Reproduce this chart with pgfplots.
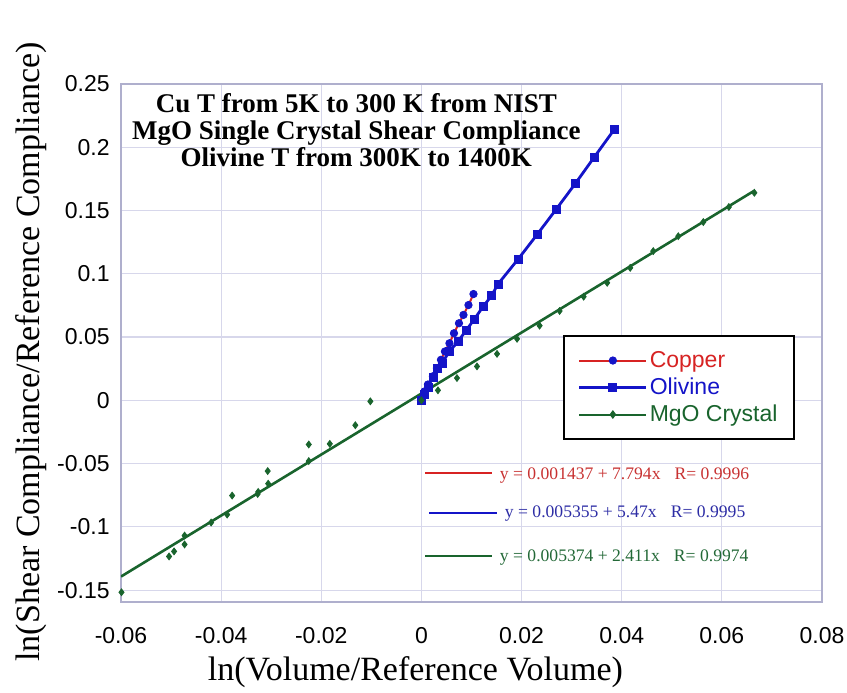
\documentclass[border=0pt]{standalone}
\usepackage{fontspec}
\setmainfont{Liberation Serif}
\newfontfamily\arial{Liberation Sans}
\usepackage{pgfplots}
\pgfplotsset{compat=1.18}
\definecolor{cured}{RGB}{215,35,35}
\definecolor{cublue}{RGB}{20,20,200}
\definecolor{mgogreen}{RGB}{25,100,45}
\definecolor{gridcol}{RGB}{215,215,235}
\definecolor{framecol}{RGB}{175,175,205}
\definecolor{eqred}{RGB}{200,50,50}
\definecolor{eqblue}{RGB}{45,45,165}
\definecolor{eqgreen}{RGB}{35,105,55}
\begin{document}
\begin{tikzpicture}
\path[use as bounding box] (-60.5pt,-45pt) rectangle (363pt,301pt);
\begin{axis}[
  scale only axis, width=350.5pt, height=259pt,
  xmin=-0.06, xmax=0.08, ymin=-0.1594, ymax=0.25,
  xtick={-0.06,-0.04,-0.02,0,0.02,0.04,0.06,0.08},
  ytick={-0.15,-0.1,-0.05,0,0.05,0.1,0.15,0.2,0.25},
  grid=major, major grid style={draw=gridcol, line width=0.6pt},
  axis line style={draw=framecol, line width=0.8pt},
  major tick length=0pt, tick style={draw=none},
  scaled ticks=false,
  /pgf/number format/fixed, /pgf/number format/precision=2,
  /pgf/number format/assume math mode=true,
  ticklabel style={font=\arial\fontsize{11.5}{13}\selectfont},
  xticklabel style={anchor=base, yshift=-20.5pt},
  yticklabel style={anchor=east, inner sep=0pt, xshift=-5.5pt},
  xlabel={ln(Volume/Reference Volume)},
  ylabel={ln(Shear Compliance/Reference Compliance)},
  label style={font=\fontsize{17}{20}\selectfont},
  xlabel style={at={(axis description cs:0.42,-0.1525)}, anchor=base},
  ylabel style={at={(axis description cs:-0.1156,0.483)}, anchor=base, rotate=0},
  legend style={at={(rel axis cs:0.6305,0.5154)}, anchor=north west,
    draw=black, line width=1pt, fill=white,
    font=\arial\fontsize{11.5}{13}\selectfont,
    inner xsep=7pt, inner ysep=5.5pt, row sep=0pt,
    nodes={inner sep=1pt, text height=9pt, text depth=2.5pt}},
  legend cell align=left,
  legend image code/.code={\draw[mark repeat=2,mark phase=2,#1] plot coordinates {(0pt,0pt) (16.75pt,0pt) (33.5pt,0pt)};},
]
% MgO fit line
\addplot[mgogreen, line width=1.3pt, forget plot] coordinates {(-0.06,-0.1393) (0.0665,0.1657)};
% Copper
\addplot[cured, line width=1pt, mark=*, mark size=1.85pt,
  mark options={draw=cublue, fill=cublue, line width=0.4pt}] table {
x y
0.0000 0.0010
0.0006 0.0070
0.0013 0.0125
0.0023 0.0190
0.0031 0.0255
0.0039 0.0320
0.0047 0.0386
0.0056 0.0451
0.0065 0.0530
0.0075 0.0609
0.0084 0.0675
0.0094 0.0753
0.0104 0.0840
};
\addlegendentry{\textcolor{cured}{Copper}}
% Olivine
\addplot[cublue, line width=1.4pt, mark=square*, mark size=2pt,
  mark options={draw=cublue, fill=cublue, line width=0.4pt}] table {
x y
0.0000 0.0000
0.0006 0.0050
0.0013 0.0102
0.0023 0.0184
0.0032 0.0250
0.0041 0.0294
0.0056 0.0386
0.0073 0.0465
0.0089 0.0551
0.0106 0.0643
0.0123 0.0740
0.0140 0.0826
0.0153 0.0919
0.0193 0.1115
0.0231 0.1310
0.0269 0.1509
0.0307 0.1711
0.0345 0.1921
0.0386 0.2145
};
\addlegendentry{\textcolor{cublue}{Olivine}}
% MgO data
\addplot[only marks, mark=diamond*, mark size=1.7pt, color=mgogreen, forget plot] table {
x y
-0.0599 -0.1517
-0.0504 -0.1234
-0.0494 -0.1194
-0.0473 -0.1139
-0.0473 -0.1069
-0.0420 -0.0966
-0.0388 -0.0903
-0.0378 -0.0753
-0.0327 -0.0740
-0.0326 -0.0724
-0.0306 -0.0659
-0.0307 -0.0559
-0.0225 -0.0480
-0.0225 -0.0349
-0.0183 -0.0344
-0.0132 -0.0197
-0.0102 -0.0008
0.0000 0.0000
0.0033 0.0079
0.0071 0.0176
0.0111 0.0268
0.0151 0.0367
0.0191 0.0486
0.0236 0.0590
0.0276 0.0706
0.0324 0.0819
0.0371 0.0929
0.0417 0.1047
0.0463 0.1179
0.0513 0.1297
0.0563 0.1409
0.0614 0.1528
0.0665 0.1640
};
\addlegendimage{mgogreen, line width=1pt, mark=diamond*, mark size=1.4pt}
\addlegendentry{\textcolor{mgogreen}{MgO Crystal}}
% title
\node[align=center, font=\bfseries\fontsize{13.5}{13.5}\selectfont, anchor=north, inner sep=0pt]
  at (axis cs:-0.013,0.2425) {Cu T from 5K to 300 K from NIST\\MgO Single Crystal Shear Compliance\\Olivine T from 300K to 1400K};
% fit annotations
\draw[cured, line width=1pt] (axis cs:0.0008,-0.0575) -- (axis cs:0.0140,-0.0575);
\node[anchor=base west, inner sep=0pt, text=eqred, font=\fontsize{8.8}{10}\selectfont]
  at (axis cs:0.0156,-0.0622) {y = 0.001437 + 7.794x\hspace{0.8em}R= 0.9996};
\draw[cublue, line width=1pt] (axis cs:0.0016,-0.0890) -- (axis cs:0.0150,-0.0890);
\node[anchor=base west, inner sep=0pt, text=eqblue, font=\fontsize{8.8}{10}\selectfont]
  at (axis cs:0.0166,-0.0929) {y = 0.005355 + 5.47x\hspace{0.8em}R= 0.9995};
\draw[mgogreen, line width=1pt] (axis cs:0.0008,-0.1228) -- (axis cs:0.0140,-0.1228);
\node[anchor=base west, inner sep=0pt, text=eqgreen, font=\fontsize{8.8}{10}\selectfont]
  at (axis cs:0.0156,-0.1276) {y = 0.005374 + 2.411x\hspace{0.8em}R= 0.9974};
\end{axis}
\end{tikzpicture}
\end{document}
